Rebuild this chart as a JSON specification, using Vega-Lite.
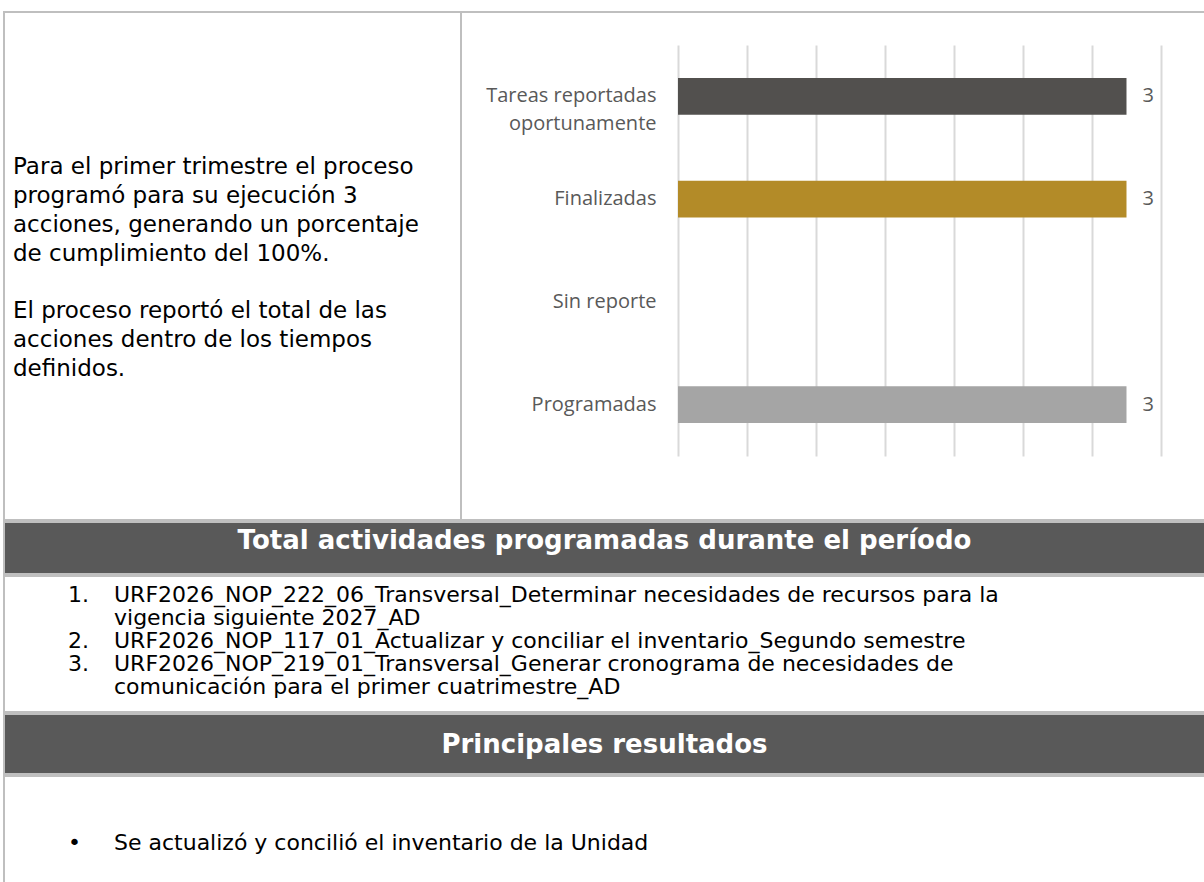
{
  "$schema": "https://vega.github.io/schema/vega-lite/v6.json",
  "background": "white",
  "padding": {"left": 3, "top": 11, "right": 0, "bottom": 0},
  "spacing": 0,
  "config": {"view": {"stroke": null}, "font": "DejaVu Sans"},
  "vconcat": [
    {
      "bounds": "flush",
      "spacing": 0,
      "hconcat": [
        {
          "width": 457,
          "height": 508,
          "view": {"stroke": "#bfbfbf", "strokeWidth": 2},
          "data": {"values": [
            {"linea": 1, "texto": "Para el primer trimestre el proceso"},
            {"linea": 2, "texto": "programó para su ejecución 3"},
            {"linea": 3, "texto": "acciones, generando un porcentaje"},
            {"linea": 4, "texto": "de cumplimiento del 100%."},
            {"linea": 6, "texto": "El proceso reportó el total de las"},
            {"linea": 7, "texto": "acciones dentro de los tiempos"},
            {"linea": 8, "texto": "definidos."}
          ]},
          "mark": {"type": "text", "x": 9, "align": "left", "baseline": "middle", "font": "DejaVu Sans", "fontSize": 23, "color": "#000000"},
          "encoding": {
            "y": {"field": "linea", "type": "quantitative", "scale": {"domain": [1, 8], "range": [155, 357]}, "axis": null},
            "text": {"field": "texto"}
          }
        },
        {
          "width": 744,
          "height": 508,
          "view": {"stroke": "#bfbfbf", "strokeWidth": 2},
          "data": {"values": [
            {"estado": "Tareas reportadas oportunamente", "acciones": 3},
            {"estado": "Finalizadas", "acciones": 3},
            {"estado": "Sin reporte", "acciones": 0},
            {"estado": "Programadas", "acciones": 3}
          ]},
          "encoding": {
            "y": {
              "field": "estado", "type": "nominal",
              "sort": ["Tareas reportadas oportunamente", "Finalizadas", "Sin reporte", "Programadas"],
              "scale": {"range": [33, 444], "paddingInner": 0.64, "paddingOuter": 0.32},
              "axis": {
                "title": null, "orient": "left", "offset": -217, "domain": false, "ticks": false,
                "labelPadding": 22, "labelFont": "Open Sans", "labelFontSize": 20, "labelColor": "#595959",
                "labelLineHeight": 28, "labelLimit": 0,
                "labelExpr": "datum.label == 'Tareas reportadas oportunamente' ? ['Tareas reportadas', 'oportunamente'] : datum.label"
              }
            },
            "x": {
              "field": "acciones", "type": "quantitative",
              "scale": {"domain": [0, 3.2308], "range": [217, 700], "nice": false, "zero": true},
              "axis": {
                "title": null, "orient": "top", "grid": true, "gridColor": "#d9d9d9", "gridWidth": 2,
                "labels": false, "ticks": false, "domain": false,
                "values": [0, 0.4615, 0.9231, 1.3846, 1.8462, 2.3077, 2.7692, 3.2308]
              }
            }
          },
          "layer": [
            {
              "mark": {"type": "bar"},
              "encoding": {
                "color": {
                  "field": "estado", "type": "nominal",
                  "scale": {"domain": ["Tareas reportadas oportunamente", "Finalizadas", "Sin reporte", "Programadas"], "range": ["#52504e", "#b38b28", "#7f7f7f", "#a5a5a5"]},
                  "legend": null
                }
              }
            },
            {
              "transform": [{"filter": "datum.acciones > 0"}],
              "mark": {"type": "text", "align": "left", "baseline": "middle", "dx": 16, "font": "Open Sans", "fontSize": 20, "color": "#595959"},
              "encoding": {"text": {"field": "acciones", "type": "quantitative"}}
            }
          ]
        }
      ]
    },
    {
      "width": 1201,
      "height": 52,
      "view": {"fill": "#595959", "stroke": "#bfbfbf", "strokeWidth": 2},
      "data": {"values": [{"titulo": "Total actividades programadas durante el período"}]},
      "mark": {"type": "text", "font": "DejaVu Sans", "fontWeight": "bold", "fontSize": 26, "color": "#ffffff", "baseline": "alphabetic", "dy": 1},
      "encoding": {"text": {"field": "titulo"}}
    },
    {
      "width": 1201,
      "height": 136,
      "view": {"stroke": "#bfbfbf", "strokeWidth": 2},
      "data": {"values": [
        {"linea": 1, "num": "1.", "texto": "URF2026_NOP_222_06_Transversal_Determinar necesidades de recursos para la"},
        {"linea": 2, "num": "", "texto": "vigencia siguiente 2027_AD"},
        {"linea": 3, "num": "2.", "texto": "URF2026_NOP_117_01_Actualizar y conciliar el inventario_Segundo semestre"},
        {"linea": 4, "num": "3.", "texto": "URF2026_NOP_219_01_Transversal_Generar cronograma de necesidades de"},
        {"linea": 5, "num": "", "texto": "comunicación para el primer cuatrimestre_AD"}
      ]},
      "encoding": {
        "y": {"field": "linea", "type": "quantitative", "scale": {"domain": [1, 5], "range": [19, 111]}, "axis": null}
      },
      "layer": [
        {
          "mark": {"type": "text", "x": 64, "align": "left", "baseline": "middle", "font": "DejaVu Sans", "fontSize": 22, "color": "#000000"},
          "encoding": {"text": {"field": "num"}}
        },
        {
          "mark": {"type": "text", "x": 110, "align": "left", "baseline": "middle", "font": "DejaVu Sans", "fontSize": 22, "color": "#000000"},
          "encoding": {"text": {"field": "texto"}}
        }
      ]
    },
    {
      "width": 1201,
      "height": 60,
      "view": {"fill": "#595959", "stroke": "#bfbfbf", "strokeWidth": 2},
      "data": {"values": [{"titulo": "Principales resultados"}]},
      "mark": {"type": "text", "font": "DejaVu Sans", "fontWeight": "bold", "fontSize": 26, "color": "#ffffff", "baseline": "alphabetic", "dy": 9},
      "encoding": {"text": {"field": "titulo"}}
    },
    {
      "width": 1201,
      "height": 120,
      "view": {"stroke": "#bfbfbf", "strokeWidth": 2},
      "data": {"values": [{"linea": 1, "texto": "Se actualizó y concilió el inventario de la Unidad"}]},
      "encoding": {
        "y": {"field": "linea", "type": "quantitative", "scale": {"domain": [0, 2], "range": [0, 134]}, "axis": null}
      },
      "layer": [
        {
          "mark": {"type": "text", "x": 64, "align": "left", "baseline": "middle", "font": "DejaVu Sans", "fontSize": 22, "color": "#000000", "text": "•"}
        },
        {
          "mark": {"type": "text", "x": 110, "align": "left", "baseline": "middle", "font": "DejaVu Sans", "fontSize": 22, "color": "#000000"},
          "encoding": {"text": {"field": "texto"}}
        }
      ]
    }
  ]
}
